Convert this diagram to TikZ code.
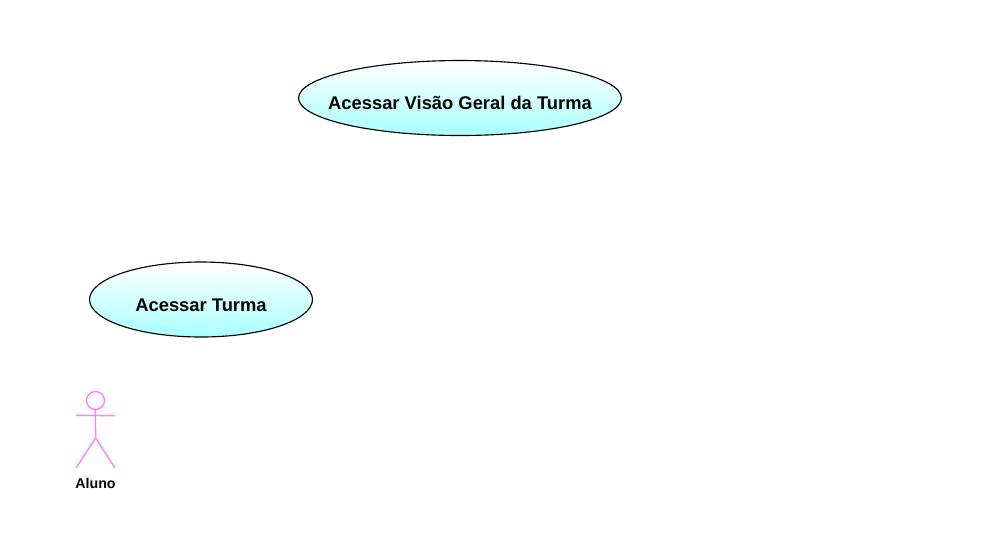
\documentclass[tikz,border=0pt]{standalone}
\usepackage{fontspec}
\setmainfont{Liberation Sans}
\usetikzlibrary{positioning, shapes.geometric}
\definecolor{actorpink}{RGB}{255,128,255}
\definecolor{casecyan}{RGB}{168,255,255}
\tikzset{x=0.02cm, y=-0.02cm,
  case node/.style={ellipse,draw=black,line width=0.65pt,top color=white,bottom color=casecyan,
    inner sep=0pt,font=\bfseries\fontsize{10.45pt}{12pt}\selectfont},
  actor line/.style={draw=actorpink,line width=0.8pt}}
\newcommand{\casetext}[1]{\raisebox{-0.235cm}[0pt][0pt]{\makebox[0pt]{#1}}}

\begin{document}
\begin{tikzpicture}
\useasboundingbox (0,0) rectangle (1000,559);

\node[case node, minimum width=6.46cm, minimum height=1.5cm] (visao) at (460,98) {\casetext{Acessar Visão Geral da Turma}};
\node[case node, minimum width=4.46cm, minimum height=1.5cm] (turma) at (201,299.5) {\casetext{Acessar Turma}};

% actor
\node[circle,actor line,minimum size=0.36cm,inner sep=0pt] (head) at (95.5,400.5) {};
\coordinate (neck) at (95.35,409.5);
\coordinate (hip) at (95.65,438);
\coordinate (armL) at (76,415.35);
\coordinate (armR) at (115,415.65);
\coordinate (footL) at (76,468);
\coordinate (footR) at (115,468);
\draw[actor line] (neck) -- (hip);
\draw[actor line] (armL) -- (armR);
\draw[actor line] (hip) -- (footL);
\draw[actor line] (hip) -- (footR);
\node[font=\bfseries\fontsize{8.1pt}{10pt}\selectfont] (aluno) at (95.5,483) {Aluno};

\end{tikzpicture}
\end{document}
